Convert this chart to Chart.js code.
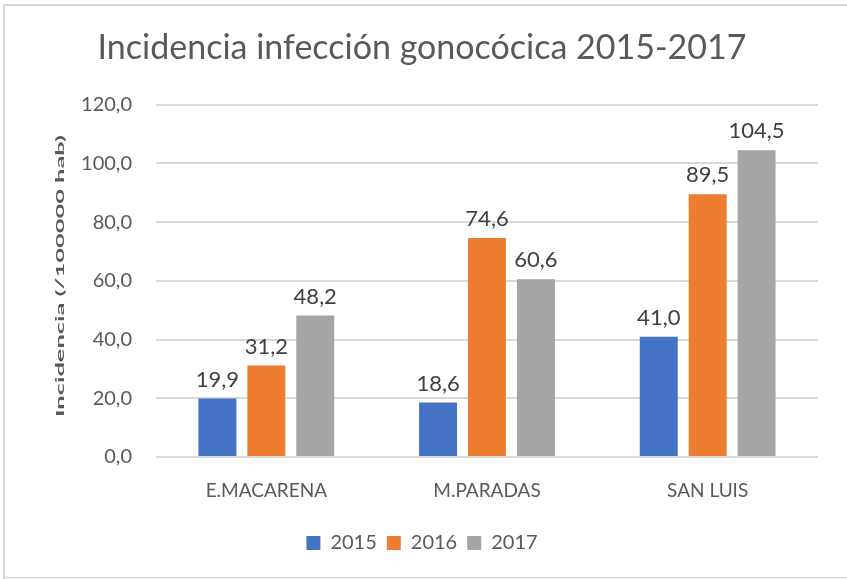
<!DOCTYPE html>
<html>
<head>
<meta charset="utf-8">
<script src="https://cdn.jsdelivr.net/npm/chart.js@4"></script>
<style>
html,body{margin:0;padding:0;background:#fff;}
#wrap{position:relative;width:847px;height:579px;}
</style>
</head>
<body>
<div id="wrap"><canvas id="c" width="847" height="579"></canvas></div>
<script>
const categories = ['E.MACARENA', 'M.PARADAS', 'SAN LUIS'];
const seriesNames = ['2015', '2016', '2017'];
const values2015 = [19.9, 18.6, 41.0];
const values2016 = [31.2, 74.6, 89.5];
const values2017 = [48.2, 60.6, 104.5];
const yTicks = [0, 20, 40, 60, 80, 100, 120];
const titleText = 'Incidencia infección gonocócica 2015-2017';
const yTitleText = 'Incidencia (/100000 hab)';

const FONT = 'Lato, "Open Sans", sans-serif';
const fmt = v => v.toFixed(1).replace('.', ',');

const bgBorder = {
  id: 'bgBorder',
  beforeDraw(chart) {
    const ctx = chart.ctx;
    ctx.save();
    ctx.fillStyle = '#fff';
    ctx.fillRect(0, 0, chart.width, chart.height);
    ctx.strokeStyle = '#d9d9d9';
    ctx.lineWidth = 2;
    ctx.beginPath();
    ctx.moveTo(4, chart.height);
    ctx.lineTo(4, 5);
    ctx.lineTo(chart.width, 5);
    ctx.stroke();
    ctx.beginPath();
    ctx.lineWidth = 1.5;
    ctx.moveTo(4, chart.height - 1.5);
    ctx.lineTo(chart.width, chart.height - 1.5);
    ctx.stroke();
    ctx.restore();
  }
};

const valueLabels = {
  id: 'valueLabels',
  afterDatasetsDraw(chart) {
    const ctx = chart.ctx;
    ctx.save();
    ctx.font = '22px ' + FONT;
    ctx.fillStyle = '#404040';
    ctx.textAlign = 'center';
    ctx.textBaseline = 'bottom';
    chart.data.datasets.forEach((ds, i) => {
      chart.getDatasetMeta(i).data.forEach((bar, j) => {
        ctx.fillText(fmt(ds.data[j]), bar.x, bar.y - 8);
      });
    });
    ctx.restore();
  }
};

const yTitle = {
  id: 'yTitle',
  afterDraw(chart) {
    const ctx = chart.ctx;
    ctx.save();
    ctx.font = 'bold 12px ' + FONT;
    ctx.fillStyle = '#595959';
    ctx.textAlign = 'center';
    ctx.textBaseline = 'middle';
    const w = ctx.measureText(yTitleText).width;
    const target = 282;
    ctx.translate(60, 276);
    ctx.rotate(-Math.PI / 2);
    ctx.scale(target / w, 1);
    ctx.fillText(yTitleText, 0, 0);
    ctx.restore();
  }
};

new Chart(document.getElementById('c'), {
  type: 'bar',
  data: {
    labels: categories,
    datasets: [
      { label: seriesNames[0], data: values2015, backgroundColor: '#4472C4' },
      { label: seriesNames[1], data: values2016, backgroundColor: '#ED7D31' },
      { label: seriesNames[2], data: values2017, backgroundColor: '#A5A5A5' }
    ]
  },
  options: {
    responsive: false,
    animation: false,
    devicePixelRatio: 1,
    layout: { padding: { top: 10, bottom: 16, left: 26, right: 29 } },
    datasets: { bar: { categoryPercentage: 0.665, barPercentage: 0.776 } },
    plugins: {
      title: {
        display: true,
        text: titleText,
        color: '#595959',
        font: { family: FONT, size: 34, weight: 'normal' },
        padding: { top: 18, bottom: 36 }
      },
      legend: {
        position: 'bottom',
        labels: {
          color: '#595959',
          font: { family: FONT, size: 20 },
          boxWidth: 14, boxHeight: 14,
          padding: 10
        }
      },
      tooltip: { enabled: false }
    },
    scales: {
      x: {
        grid: { display: false },
        border: { display: false },
        ticks: { color: '#595959', font: { family: FONT, size: 19 }, padding: 14 },
        afterFit(s) { s.height = 66; }
      },
      y: {
        min: 0, max: 120,
        afterBuildTicks(s) { s.ticks = yTicks.map(v => ({ value: v })); },
        grid: { color: '#d9d9d9', lineWidth: 2, drawTicks: false },
        border: { display: false },
        ticks: {
          color: '#595959',
          font: { family: FONT, size: 20 },
          padding: 24,
          callback: v => fmt(v)
        },
        afterFit(s) { s.width = 130; }
      }
    }
  },
  plugins: [bgBorder, valueLabels, yTitle]
});
</script>
</body>
</html>
